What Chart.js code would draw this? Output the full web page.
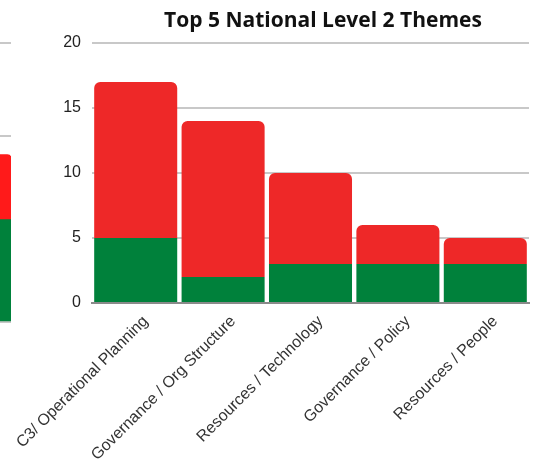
<!DOCTYPE html>
<html>
<head>
<meta charset="utf-8">
<script src="https://cdn.jsdelivr.net/npm/chart.js@4/dist/chart.umd.min.js"></script>
<style>
  html, body { margin: 0; padding: 0; background: #fff; overflow: hidden; }
  body { width: 534px; height: 461px; position: relative; }
  #mainBox { position: absolute; left: 0; top: 0; width: 534px; height: 461px; }
  #sideBox { position: absolute; left: -69px; top: 0; width: 80px; height: 461px; }
  #title {
    position: absolute; left: 123px; width: 400px; top: 5px;
    text-align: center; font: bold 21px/28px "Open Sans", sans-serif; color: #111;
  }
</style>
</head>
<body>
<div id="sideBox"><canvas id="sideChart"></canvas></div>
<div id="mainBox"><canvas id="mainChart"></canvas></div>
<div id="title">Top 5 National Level 2 Themes</div>
<script>
const themes = ["C3/ Operational Planning", "Governance / Org Structure", "Resources / Technology", "Governance / Policy", "Resources / People"];
const greenValues = [5, 2, 3, 3, 3];
const redValues = [12, 12, 7, 3, 2];
const yTicks = [0, 5, 10, 15, 20];

// neighbouring chart, only its right edge shows
const sideGreen = [11];
const sideRed = [7];

const RED = '#ee2828';
const GREEN = '#00813b';

new Chart(document.getElementById("mainChart").getContext("2d"), {
  type: 'bar',
  data: {
    labels: themes,
    datasets: [
      { data: greenValues, backgroundColor: GREEN, borderRadius: 0, barPercentage: 0.95, categoryPercentage: 1 },
      { data: redValues, backgroundColor: RED, borderRadius: { topLeft: 6, topRight: 6 }, borderSkipped: false, barPercentage: 0.95, categoryPercentage: 1 }
    ]
  },
  options: {
    responsive: true,
    maintainAspectRatio: false,
    animation: false,
    layout: { padding: { left: 0, right: 5, top: 43, bottom: 0 } },
    plugins: {
      legend: { display: false },
      tooltip: { enabled: false }
    },
    scales: {
      x: {
        stacked: true,
        grid: { display: false, drawTicks: false },
        border: { display: true, color: '#8a8a8a', width: 2 },
        ticks: {
          color: '#333',
          font: { family: 'Liberation Sans', size: 16 },
          maxRotation: 45, minRotation: 45, padding: 9, labelOffset: 10
        },
        afterFit: s => { s.height = 158; s.paddingLeft = 0; s.paddingRight = 0; }
      },
      y: {
        stacked: true,
        min: 0, max: 20,
        afterBuildTicks: s => { s.ticks = yTicks.map(v => ({ value: v })); },
        grid: { color: '#c8c8c8', lineWidth: 2, drawTicks: false },
        border: { display: false },
        ticks: { color: '#222', font: { family: 'Liberation Sans', size: 16 }, padding: 11 },
        afterFit: s => { s.width = 92; }
      }
    }
  }
});

new Chart(document.getElementById("sideChart").getContext("2d"), {
  type: 'bar',
  data: {
    labels: [''],
    datasets: [
      { data: sideGreen, backgroundColor: GREEN, barPercentage: 1, categoryPercentage: 1 },
      { data: sideRed, backgroundColor: '#ff1a1a', borderRadius: { topLeft: 4, topRight: 4 }, borderSkipped: false, barPercentage: 1, categoryPercentage: 1 }
    ]
  },
  options: {
    responsive: true,
    maintainAspectRatio: false,
    animation: false,
    layout: { padding: { left: 0, right: 0, top: 43, bottom: 139 } },
    plugins: { legend: { display: false }, tooltip: { enabled: false } },
    scales: {
      x: { stacked: true, display: false },
      y: {
        stacked: true, min: 0, max: 30,
        ticks: { display: false, stepSize: 10 },
        grid: { color: '#c8c8c8', lineWidth: 2, drawTicks: false },
        border: { display: false }
      }
    }
  }
});
</script>
</body>
</html>
